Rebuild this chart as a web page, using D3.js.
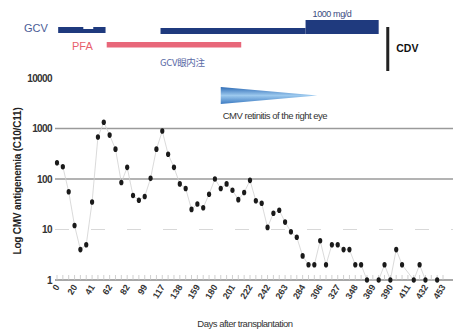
<!DOCTYPE html>
<html>
<head>
<meta charset="utf-8">
<script src="https://cdn.jsdelivr.net/npm/d3@7/dist/d3.min.js"></script>
<style>
  html, body { margin: 0; padding: 0; background: #fff; }
  svg { display: block; font-family: "Liberation Sans", Arial, sans-serif; }
</style>
</head>
<body>
<svg id="chart" width="453" height="330"></svg>
<script>
// Weekly CMV antigenemia (positive cells, C10/C11); null = not detected
const antigenemia = [
  210, 175, 56, 12, 4, 5, 35, 680, 1330, 740, 390, 85, 170, 47, 38, 45, 103,
  390, 890, 310, 170, 80, 65, 25, 32, 27, 50, 100, 65, 80, 60, 39, 54, 94,
  37, 33, 11, 21, 24, 14, 9, 7, 3, 2, 2, 6, 2, 5, 5, 4, 4, 2, 2, 1, null,
  1, 2, 1, 4, 2, null, 1, 2, 1, null, 1
];
// Day labels, one every third sample
const dayLabels = ["0", "20", "41", "62", "82", "99", "117", "138", "159", "180", "201",
  "222", "242", "263", "284", "306", "327", "348", "369", "390", "411", "432", "453"];
const yTicks = [1, 10, 100, 1000, 10000];
const gridSolid = [100, 1000];
const gridDashed = [10];

// Treatment periods, in sample index units
const gcvCourses = [
  { label: "GCV", start: 0.2, end: 8.3, notch: [4.5, 6.2] },
  { start: 17.7, end: 42.5 },
];
const gcvHighDose = { label: "1000 mg/d", start: 42.5, end: 55.0 };
const pfaCourse = { label: "PFA", start: 8.5, end: 31.5 };
const cdvStart = 56.3;
const retinitis = { label: "CMV retinitis of the right eye", start: 28.0, end: 44.5 };

const svg = d3.select("#chart");
const nIdx = dayLabels.length * 3 - 3;
const x = d3.scaleLinear().domain([0, nIdx]).range([57, 443]);
const y = d3.scaleLog().domain([1, 10000]).range([280, 78]);

// gridlines
svg.selectAll(".grid").data(gridSolid).join("line")
  .attr("x1", 55).attr("x2", 453)
  .attr("y1", d => y(d)).attr("y2", d => y(d))
  .attr("stroke", "#9a9a9a").attr("stroke-width", 1.4);
svg.selectAll(".gridd").data(gridDashed).join("line")
  .attr("x1", 55).attr("x2", 453)
  .attr("y1", d => y(d)).attr("y2", d => y(d))
  .attr("stroke", "#d8d8d8").attr("stroke-width", 1).attr("stroke-dasharray", "14,22");

// x axis baseline with inward minor ticks
svg.append("line").attr("x1", 55).attr("x2", 453)
  .attr("y1", y(1)).attr("y2", y(1))
  .attr("stroke", "#8a8a8a").attr("stroke-width", 1.5);
svg.selectAll(".mt").data(d3.range(0, nIdx + 1)).join("line")
  .attr("x1", d => x(d)).attr("x2", d => x(d))
  .attr("y1", y(1)).attr("y2", y(1) - 5)
  .attr("stroke", "#c4c4c4").attr("stroke-width", 0.8);

// y tick labels
svg.selectAll(".yl").data(yTicks).join("text")
  .attr("x", 52).attr("y", d => y(d) + 3.5)
  .attr("text-anchor", "end").attr("font-size", 10).attr("font-weight", "bold")
  .attr("letter-spacing", -0.6).attr("fill", "#333")
  .text(d => d3.format("d")(d));

// x tick labels, rotated
svg.selectAll(".xl").data(dayLabels).join("text")
  .attr("transform", (d, i) => `translate(${x(i * 3) + 3},${y(1) + 7}) rotate(-58)`)
  .attr("text-anchor", "end").attr("font-size", 9).attr("font-weight", "bold")
  .attr("fill", "#333").text(d => d);

// axis titles
svg.append("text")
  .attr("transform", `translate(21,181) rotate(-90)`)
  .attr("text-anchor", "middle").attr("font-size", 10).attr("font-weight", "bold")
  .attr("fill", "#222").attr("letter-spacing", -0.2)
  .text("Log CMV antigenemia (C10/C11)");
svg.append("text").attr("x", 245).attr("y", 327)
  .attr("text-anchor", "middle").attr("font-size", 9.5).attr("letter-spacing", -0.5)
  .attr("fill", "#333").text("Days after transplantation");

// connecting line and markers
const pts = antigenemia.map((v, i) => ({ i, v })).filter(d => d.v != null);
svg.append("path").datum(pts)
  .attr("d", d3.line().x(d => x(d.i)).y(d => y(d.v)))
  .attr("fill", "none").attr("stroke", "#d0d0d0").attr("stroke-width", 0.8);
svg.selectAll(".pt").data(pts).join("ellipse")
  .attr("cx", d => x(d.i)).attr("cy", d => y(d.v))
  .attr("rx", 2.1).attr("ry", 2.8).attr("fill", "#1a1a1a");

// treatment bars
const navy = "#1f3a7e";
svg.append("text").attr("x", 24).attr("y", 32).attr("font-size", 11)
  .attr("fill", "#4a5c96").text(gcvCourses[0].label);
gcvCourses.forEach(c => {
  if (c.notch) {
    svg.append("path")
      .attr("d", `M${x(c.start)},27 H${x(c.notch[0])} V29 H${x(c.notch[1])} V27 H${x(c.end)} V33 H${x(c.start)} Z`)
      .attr("fill", navy);
  } else {
    svg.append("rect").attr("x", x(c.start)).attr("y", 28)
      .attr("width", x(c.end) - x(c.start)).attr("height", 6).attr("fill", navy);
  }
});
svg.append("rect").attr("x", x(gcvHighDose.start)).attr("y", 20)
  .attr("width", x(gcvHighDose.end) - x(gcvHighDose.start)).attr("height", 14).attr("fill", navy);
svg.append("text").attr("x", x(gcvHighDose.start) + 7).attr("y", 17)
  .attr("font-size", 9).attr("letter-spacing", -0.4).attr("fill", "#3a4a80").text(gcvHighDose.label);

svg.append("text").attr("x", 72).attr("y", 50).attr("font-size", 11)
  .attr("fill", "#e8606c").text(pfaCourse.label);
svg.append("rect").attr("x", x(pfaCourse.start)).attr("y", 42)
  .attr("width", x(pfaCourse.end) - x(pfaCourse.start)).attr("height", 5.5)
  .attr("fill", "#e8677a");

svg.append("text").attr("x", 160).attr("y", 66).attr("font-size", 9.5)
  .attr("fill", "#5a6aa6").attr("letter-spacing", -0.3)
  .attr("font-family", "'Noto Sans CJK JP', sans-serif").text("GCV眼内注");

// CDV marker
svg.append("rect").attr("x", x(cdvStart)).attr("y", 27).attr("width", 3).attr("height", 44)
  .attr("fill", "#222");
svg.append("text").attr("x", x(cdvStart) + 10).attr("y", 52).attr("font-size", 10.5)
  .attr("font-weight", "bold").attr("fill", "#111").text("CDV");

// retinitis wedge
const defs = svg.append("defs");
const grad = defs.append("linearGradient").attr("id", "wedge")
  .attr("x1", 0).attr("y1", 0).attr("x2", 0).attr("y2", 1);
grad.append("stop").attr("offset", "0%").attr("stop-color", "#2f6cb6");
grad.append("stop").attr("offset", "50%").attr("stop-color", "#9cc9ee");
grad.append("stop").attr("offset", "100%").attr("stop-color", "#3d7bc2");
svg.append("path")
  .attr("d", `M${x(retinitis.start)},87 L${x(retinitis.end)},95.5 L${x(retinitis.start)},104 Z`)
  .attr("fill", "url(#wedge)");
svg.append("text").attr("x", x(retinitis.start) + 2).attr("y", 119)
  .attr("font-size", 9.5).attr("letter-spacing", -0.5).attr("fill", "#333")
  .text(retinitis.label);
</script>
</body>
</html>
